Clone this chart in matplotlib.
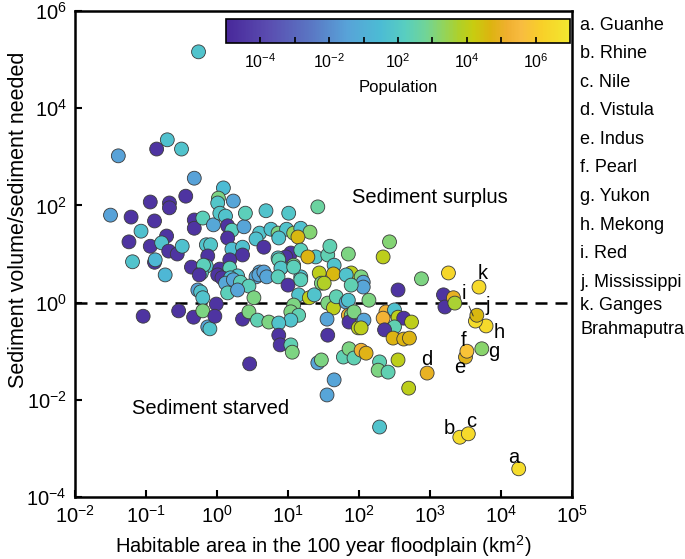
import numpy as np
import matplotlib
matplotlib.use('Agg')
import matplotlib.pyplot as plt
from matplotlib.colors import LinearSegmentedColormap, Normalize
from matplotlib.cm import ScalarMappable
from matplotlib.ticker import FixedLocator, NullLocator

plt.rcParams['font.family'] = 'Liberation Sans'
plt.rcParams['mathtext.default'] = 'regular'

# log10 values: habitable area (km2), sediment ratio, population
log_area = [-0.26, -1.39, -0.85, -0.70, -0.50, -0.32, 0.09, -0.44, -0.94, -0.67,
            -0.67, 0.02, 0.01, 0.23, -1.50, -1.21, -0.88, -1.07, -1.24, -0.94,
            -0.71, -0.78, -0.68, -0.56, -0.49, -1.19, -0.88, -0.87, -0.73, -0.32,
            -0.32, -0.20, -0.05, 0.04, 0.12, 0.15, 0.21, 0.38, 0.40, 0.69,
            1.01, 1.42, 0.15, -0.15, -0.09, 0.21, 0.36, 0.36, -0.13, 0.18,
            -0.36, -0.15, 0.04, 0.18, -0.22, 0.60, 0.55, 0.66, 0.76, 0.86,
            0.98, 1.08, 1.18, 1.31, 1.14, 0.87, 1.04, 0.97, 1.18, 1.39,
            1.56, 1.59, 1.85, 0.86, 0.91, 1.08, 1.28, 1.65, 1.44, 1.64,
            1.89, 1.18, 0.60, 0.29, 0.55, -0.19, -0.25, -0.27, -0.23, -0.20,
            0.01, 0.07, 0.19, 0.12, 0.23, 0.15, 0.33, 0.45, 0.52, 0.29,
            0.59, 0.66, 0.70, 0.87, 0.90, 0.86, 1.00, 1.08, 1.18, 1.15,
            1.30, 1.37, 1.47, 1.51, 1.56, 1.64, 1.82, 1.68, 1.82, 1.85,
            1.89, 1.86, 1.99, 1.08, 1.04, 1.15, 1.04, -1.04, -0.54, -0.33,
            -0.20, -0.13, -0.10, -0.01, -0.03, 0.36, 0.45, 0.57, 0.73, 0.87,
            0.87, 0.89, 1.04, 1.06, 0.46, 1.42, 1.47, 1.56, 1.55, 1.65,
            1.55, 1.78, 1.86, 1.93, 2.34, 2.03, 2.06, 2.06, 1.89, 1.85,
            1.93, 2.07, 2.03, 2.14, 2.55, 2.38, 2.34, 2.50, 2.55, 2.63,
            2.50, 2.36, 2.74, 2.48, 2.63, 2.71, 2.03, 2.10, 2.29, 2.27,
            2.41, 2.55, 2.70, 2.88, 3.26, 3.19, 3.21, 3.33, 3.35, 2.29,
            2.43]
log_ratio = [5.16, 3.02, 3.16, 3.35, 3.16, 2.56, 2.36, 2.19, 2.07, 2.05,
             1.95, 2.15, 2.05, 2.09, 1.80, 1.76, 1.68, 1.47, 1.25, 1.16,
             1.37, 1.23, 1.06, 1.00, 1.16, 0.84, 0.83, 0.88, 0.57, 1.70,
             1.53, 1.74, 1.60, 1.84, 1.78, 1.58, 1.49, 1.56, 1.84, 1.89,
             1.84, 1.97, 1.33, 1.19, 1.19, 1.10, 1.14, 0.98, 0.96, 0.88,
             0.73, 0.75, 0.69, 0.71, 0.61, 1.43, 1.31, 1.14, 1.51, 1.43,
             1.51, 1.43, 1.53, 1.45, 1.35, 1.33, 1.02, 0.94, 1.08, 0.94,
             0.98, 1.16, 1.00, 0.92, 0.73, 0.77, 0.94, 0.77, 0.61, 0.59,
             0.61, 0.53, 0.63, 0.55, 0.53, 0.77, 0.57, 0.26, 0.22, 0.10,
             0.57, 0.51, 0.51, 0.40, 0.47, 0.20, 0.42, 0.34, 0.10, 0.26,
             0.57, 0.63, 0.53, 0.88, 0.71, 0.53, 0.36, 0.73, 0.47, 0.16,
             0.10, 0.16, 0.40, 0.40, -0.01, -0.11, 0.57, 0.12, 0.01, -0.26,
             -0.26, -0.40, -0.52, -0.05, -0.19, -0.26, -0.36, -0.28, -0.17, -0.30,
             -0.17, -0.50, -0.54, -0.03, -0.28, -0.34, -0.19, -0.36, -0.40, -0.42,
             -0.67, -0.87, -0.87, -1.02, -1.26, -1.24, -1.18, -0.67, -0.34, -1.59,
             -1.90, -1.12, -0.95, -1.14, 0.94, 0.53, 0.42, 0.32, 0.36, 0.05,
             -0.19, -0.36, -0.52, 0.05, 0.26, -0.19, -0.32, -0.15, -0.30, -0.32,
             -0.50, -0.56, -0.40, -0.73, -0.75, -0.73, -0.98, -1.04, -1.22, -1.39,
             -1.43, -1.18, -1.76, 0.49, 0.61, 0.16, -0.09, 0.10, -0.01, -2.56,
             1.25]
log_pop = [1.8, 0.5, -2.6, 1.7, 1.8, 0.5, 1.5, -2.6, -2.6, -2.6,
           -2.6, 3.0, 1.9, 0.6, 0.5, -2.6, -2.6, 1.7, -2.6, -2.6,
           -2.6, 1.8, -2.6, -2.6, 1.7, 1.8, -2.6, 1.3, 1.3, -2.6,
           -2.6, 2.3, 0.7, 1.9, 1.8, -2.6, 2.2, 0.6, 2.3, 1.8,
           1.9, 2.7, -2.6, 1.8, 1.9, 1.6, 1.7, -2.6, -2.6, -2.6,
           -2.6, 1.9, -2.6, 2.3, 2.2, 1.8, 1.7, -2.6, 1.7, 3.0,
           1.8, 3.4, 1.7, 3.1, 4.6, 1.8, -2.6, -2.6, 2.3, 1.9,
           2.4, 2.4, 3.0, 1.9, 1.8, 3.0, 4.7, 1.8, 4.0, 4.6,
           4.0, 1.7, 0.6, 1.8, 0.6, 2.3, -2.6, 0.5, 1.8, 1.8,
           -2.6, -2.6, 1.5, 0.7, 0.6, 2.3, 2.3, 2.3, 3.0, 0.6,
           0.6, 0.5, 0.6, 2.4, 1.9, 2.3, -2.6, 2.3, 2.3, 1.8,
           4.0, 1.8, 3.0, 3.8, 3.0, 4.0, 1.8, 2.4, 0.7, 5.3,
           3.0, -2.6, 4.0, 3.0, 3.0, 2.4, 1.8, -2.6, -2.6, -2.6,
           3.0, 0.6, 1.8, -2.6, -2.6, -2.6, 3.0, 2.4, 3.0, 1.8,
           -2.6, -2.6, 2.4, 3.0, -2.6, 0.6, 3.0, -2.6, 0.6, 0.6,
           0.6, 2.4, 3.0, 2.4, 4.0, 3.0, 0.6, 0.6, 2.4, 1.8,
           3.0, 0.6, 4.0, 3.0, -2.6, 5.3, 5.3, 1.7, 4.0, -2.6,
           2.4, -2.6, 4.0, 4.7, 4.7, 4.7, 5.2, 4.8, 2.4, 3.0,
           2.4, 4.0, 4.0, 3.0, 6.4, -2.6, -2.6, 5.0, 3.7, 1.8,
           3.1]

# named deltas (a-k)
river_letters = ['a', 'b', 'c', 'd', 'e', 'f', 'g', 'h', 'i', 'j', 'k']
river_area = [4.25, 3.42, 3.54, 2.96, 3.50, 3.52, 3.73, 3.79, 3.64, 3.66, 3.69]
river_ratio = [-3.42, -2.77, -2.70, -1.45, -1.12, -1.00, -0.95, -0.48, -0.38, -0.26, 0.32]
river_pop = [6.6, 6.6, 6.5, 5.0, 4.8, 5.8, 3.2, 6.5, 6.6, 4.6, 6.5]
river_names = ['a. Guanhe', 'b. Rhine', 'c. Nile', 'd. Vistula', 'e. Indus',
               'f. Pearl', 'g. Yukon', 'h. Mekong', 'i. Red', 'j. Mississippi',
               'k. Ganges', 'Brahmaputra']

cbar_ticks = [-2, -1, 0, 1, 2, 3, 4, 5, 6]
cbar_labels = ['$10^{-4}$', '', '$10^{-2}$', '', '$10^{2}$', '', '$10^{4}$', '', '$10^{6}$']

# parula-like colormap
cmap = LinearSegmentedColormap.from_list('pop', [
    (0.00, '#48289a'), (0.12, '#5a4cb0'), (0.25, '#5a78c4'), (0.35, '#58a2d8'),
    (0.45, '#4cbcd4'), (0.52, '#58cec0'), (0.58, '#70d498'), (0.63, '#90d460'),
    (0.68, '#b0d028'), (0.72, '#c8cc10'), (0.77, '#dcb410'), (0.82, '#f0b030'),
    (0.86, '#f8bc40'), (0.92, '#f8d028'), (1.00, '#f2e830')])
norm = Normalize(vmin=-3, vmax=7)

fig = plt.figure(figsize=(6.85, 5.59), dpi=100)
ax = fig.add_axes([0.1095, 0.1109, 0.7255, 0.8694])

ax.axhline(1, color='k', lw=1.8, ls=(0, (4.8, 3.2)), zorder=2)
ax.scatter(10 ** np.array(log_area), 10 ** np.array(log_ratio), c=log_pop,
           cmap=cmap, norm=norm, s=100, edgecolors='#3a3a3a', linewidths=0.6, zorder=3)
ax.scatter(10 ** np.array(river_area), 10 ** np.array(river_ratio), c=river_pop,
           cmap=cmap, norm=norm, s=100, edgecolors='#3a3a3a', linewidths=0.6, zorder=4)

# letter labels next to the named deltas (offsets in points)
offsets = {'a': (-3.6, 7.9), 'b': (-7.2, 6.5), 'c': (2.2, 8.6), 'd': (0, 10.1),
           'e': (-4.3, -7.2), 'f': (-2.2, 7.9), 'g': (8.6, -2.2), 'h': (9.4, -5),
           'i': (-8.6, 20.2), 'j': (7.9, 7.2), 'k': (2.9, 10.1)}
for let, xa, yr in zip(river_letters, river_area, river_ratio):
    kw = {}
    if let == 'i':
        kw['arrowprops'] = dict(arrowstyle='-', lw=0.7, color='#333333',
                                shrinkA=1, shrinkB=4)
    ax.annotate(let, (10 ** xa, 10 ** yr), xytext=offsets[let], textcoords='offset points',
                ha='center', va='center', fontsize=14.5, zorder=5, **kw)

ax.set_xscale('log')
ax.set_yscale('log')
ax.set_xlim(1e-2, 1e5)
ax.set_ylim(1e-4, 1e6)
ax.xaxis.set_major_locator(FixedLocator([10.0 ** p for p in range(-2, 6)]))
ax.yaxis.set_major_locator(FixedLocator([10.0 ** p for p in range(-4, 7, 2)]))
ax.xaxis.set_minor_locator(NullLocator())
ax.yaxis.set_minor_locator(NullLocator())
ax.tick_params(direction='in', length=5, width=1.5, labelsize=14.5, pad=6)
for sp in ax.spines.values():
    sp.set_linewidth(1.8)

ax.set_xlabel('Habitable area in the 100 year floodplain (km$^2$)', fontsize=14.5, labelpad=4)
ax.set_ylabel('Sediment volume/sediment needed', fontsize=15.5)
ax.yaxis.set_label_coords(-0.093, 0.57)

ax.text(0.714, 0.617, 'Sediment surplus', transform=ax.transAxes,
        ha='center', va='center', fontsize=14.5)
ax.text(0.272, 0.183, 'Sediment starved', transform=ax.transAxes,
        ha='center', va='center', fontsize=14.5)

# colorbar inside the top of the axes
cax = fig.add_axes([0.330, 0.923, 0.502, 0.043])
cb = fig.colorbar(ScalarMappable(norm=norm, cmap=cmap), cax=cax, orientation='horizontal')
cb.set_ticks(cbar_ticks)
cb.set_ticklabels(cbar_labels)
cax.tick_params(direction='in', length=4, width=1.2, labelsize=11.5, pad=7)
cb.outline.set_linewidth(1.2)
cb.set_label('Population', fontsize=12, labelpad=6)

# key on the right
for i, name in enumerate(river_names[:10]):
    fig.text(0.847, 1 - (25 + 28.6 * i) / 559, name, ha='left', va='center', fontsize=13)
fig.text(0.847, 1 - 305 / 559, river_names[10], ha='left', va='center', fontsize=13)
fig.text(0.847, 1 - 329 / 559, river_names[11], ha='left', va='center', fontsize=13)

fig.savefig('out.png', dpi=100)
